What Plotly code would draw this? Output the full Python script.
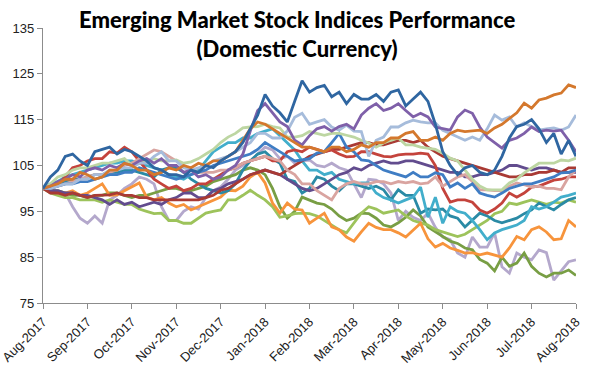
import plotly.graph_objects as go

month_labels = ["Aug-2017", "Sep-2017", "Oct-2017", "Nov-2017", "Dec-2017", "Jan-2018",
                "Feb-2018", "Mar-2018", "Apr-2018", "May-2018", "Jun-2018", "Jul-2018", "Aug-2018"]

# observation points: every sixth of a month from Aug-2017 (0) to Aug-2018 (12)
obs_months = [k / 6 for k in range(73)]

lavender = [100, 99.5, 99, 99, 96, 93.5, 92.4, 94, 92.4, 97.5, 98.5, 100, 101, 102.5, 102, 101,
            96, 93, 93, 95, 96, 95.5, 98, 99.5, 100.3, 102, 104, 105, 106, 107.5, 109, 108.4,
            106.5, 107, 105.5, 106, 106.2, 105, 104.7, 105.5, 104.5, 104, 101, 98, 102, 101.8,
            101, 99, 93, 95, 93.7, 93, 94.6, 91.5, 89.4, 88.8, 85.9, 85, 89.4, 87.2, 87.2, 90.3,
            82.9, 81.5, 85.9, 85, 84.4, 86.6, 86, 80, 82, 84, 84.4]
olive = [100, 99.5, 99.5, 99, 98.5, 98.5, 98, 98.5, 98.5, 99, 99, 98.5, 98, 98.5, 98.5, 99,
         99.5, 100, 100, 99.5, 99.5, 100, 100.5, 101.5, 102, 102.5, 103, 104, 104.5, 104, 103, 100,
         96, 93.5, 95, 98.1, 97.5, 96.8, 96.5, 95.5, 94, 93, 93.5, 94.6, 94.5, 93.5, 92, 91.6,
         92.5, 93.7, 95.3, 94, 91.6, 90.5, 89.4, 88.5, 88, 87, 86.6, 84.5, 83.7, 82, 85, 83,
         83.7, 85.9, 83, 81.5, 80.7, 81.5, 81.5, 82.2, 81]
lime = [100, 99, 98.5, 98, 98, 97.5, 97.5, 97.5, 97, 97.5, 97, 96.5, 96.5, 95.5, 95, 94.5,
        94.6, 93, 93, 92.4, 92.4, 93.5, 94.6, 95, 95.3, 97.5, 97.5, 98.5, 99.6, 98.5, 97.5, 96,
        93.7, 94, 94.5, 94.6, 94.5, 94, 93, 92, 91, 90.3, 92.4, 94.6, 96, 95.5, 94.6, 95,
        95.3, 94, 93, 92.5, 92, 91, 90.5, 90, 89.5, 90, 91, 92, 93, 94.5, 95, 96.8,
        96.5, 97, 97.5, 97, 96.5, 97, 96.8, 97.5, 97]
bright_orange = [100, 99.5, 99, 99, 99.5, 98.5, 99, 100, 101, 98.5, 98.6, 99.5, 100.3, 101.2, 98.1, 97.5,
                 98, 96.8, 96, 96.5, 95.3, 96, 96.8, 97.5, 98.1, 99.6, 99.5, 100.5, 102.5, 103.5, 101.2, 96.8,
                 94.6, 96.8, 95.5, 95.3, 92.4, 93.5, 94.6, 91.6, 91, 89.4, 88.5, 90.5, 92.4, 91.5, 91, 91,
                 90.3, 89.4, 91, 92.4, 89, 87.2, 88, 87, 86.5, 85.9, 86, 85.5, 85.9, 85.5, 85, 87,
                 89.5, 88.8, 91, 91.6, 90.5, 88.8, 89, 93, 91.6]
teal = [100, 100.5, 101, 101.5, 102, 102, 102.5, 103, 103, 103.5, 103.5, 104, 104, 103.5, 103, 102.5,
        104, 104.5, 104.5, 103.5, 102, 101, 100, 99.5, 99, 99.5, 101, 104, 106, 107.5, 108, 106.5,
        105.5, 102, 101.5, 99, 100, 102.5, 102, 100.5, 99.5, 101, 101, 100.5, 100, 100.5, 99.7, 97.5,
        99.7, 98.5, 98.5, 94.6, 95.5, 95.3, 95.5, 94, 93.5, 91.6, 93, 94.6, 94, 93, 92.5, 93,
        93.5, 94.5, 95.3, 96.8, 96, 95.3, 96.5, 97.5, 98]
cyan = [100, 101, 101.5, 102.5, 103, 103.5, 104, 104.5, 105, 105.5, 105.5, 106, 106, 105.5, 105, 104.5,
        104, 103, 102.5, 102, 103, 104, 106, 108, 109, 110, 110, 111, 111, 112, 112.5, 113,
        111.5, 110, 108.4, 106, 104, 104, 103, 103.5, 102, 101.5, 101, 101.2, 101.2, 99, 98, 97.5,
        96.8, 97.5, 98.1, 100.3, 93.7, 98.1, 92.4, 96, 95, 94.6, 93, 91, 88.8, 90.3, 91, 91.5,
        92, 93, 96, 95.5, 96, 97, 98.1, 98.5, 99]
dark_purple = [100, 99.5, 99.5, 99, 99, 98.5, 98.5, 98, 97.5, 96.5, 97.5, 96.5, 97, 96, 96.5, 97,
               96.5, 97.5, 98, 99, 99, 98, 98, 99.5, 100, 101, 101.5, 102, 103, 103.5, 104, 103.5,
               103, 102, 101, 100, 99.5, 100, 101, 102, 103, 103.5, 104.5, 104, 105, 105.5, 106, 105.5,
               105.5, 106, 106, 105.5, 105, 104.5, 104, 103.5, 103.5, 102.5, 102.5, 103, 103, 103.5, 104, 105,
               105, 104.5, 104, 104.5, 104.5, 104, 103.5, 103.5, 103.5]
dark_red = [100, 99, 99, 98.5, 99, 98.5, 98, 98.5, 98.5, 98.6, 99, 98.5, 98.5, 98, 98, 97.5,
            97.5, 97.5, 97.5, 97.5, 97.5, 97.5, 98, 98.5, 99.6, 100, 101, 102, 103, 103.5, 104, 103.5,
            103, 104, 105, 106, 107, 107.5, 108, 108.5, 108.5, 109, 109.5, 110, 110, 109.5, 109.5, 110,
            110.5, 110.5, 110, 110.5, 109, 108, 107, 106.5, 106, 105.5, 105, 104.5, 104, 103.5, 103, 102.5,
            102.5, 103, 103, 103.5, 103.5, 104, 103.5, 104.5, 104.5]
red = [100, 100.5, 101, 102.5, 104.5, 105, 106, 106.5, 106.5, 108, 107.7, 109, 108, 106, 104, 102,
       101, 100, 100.5, 99.5, 100, 101, 101, 102, 103, 104, 104.5, 105.5, 106, 106.5, 107, 106,
       106, 108, 108.4, 108, 109, 108.5, 108, 108.4, 107.5, 106.9, 107, 108, 108, 107.5, 107, 106.9,
       107.3, 107.5, 107.5, 107.7, 107.5, 105, 100, 97, 97.5, 97.5, 97, 95.3, 94.6, 95.5, 96.8, 99,
       98.1, 99, 100.3, 100.5, 101.2, 101.8, 102, 102.5, 102.5]
pink = [100, 100, 100.5, 101, 101.5, 102, 102.5, 103, 103, 103.5, 104, 105, 105.5, 106.5, 107.5, 108.4,
        108, 107, 106, 105, 104, 103.5, 103.5, 103.5, 104, 104, 104.5, 105.5, 106, 106.5, 107, 106.5,
        106, 104, 103, 101, 101, 99.5, 98.5, 97.5, 100, 101, 101.5, 101, 101, 101.5, 101.5, 101,
        101.5, 101.2, 101.5, 101, 101.2, 102.5, 100.5, 101.5, 102.5, 103, 101.5, 99.7, 99.7, 99.5, 99.5, 100.5,
        101.2, 100.8, 100.3, 100.5, 100, 100, 99.7, 102.5, 104]
med_blue = [100, 100, 100.5, 101, 101, 101.5, 101.5, 102, 102.5, 103, 103, 103.5, 103.5, 104.5, 104, 103.5,
            103, 102.5, 102, 102.5, 103, 103.5, 104, 105, 105.5, 106, 106.5, 107, 107.5, 108.5, 110, 109,
            108, 107, 106, 106.2, 106.5, 107.7, 108, 110, 112, 109, 108, 106.2, 106, 105, 104, 103.5,
            103, 102.5, 103.5, 102.5, 102.5, 103.4, 103, 100.3, 101.2, 100, 101, 99, 98.5, 98.1, 99, 100,
            100.5, 101, 101, 101.5, 102, 102.5, 103.4, 103.5, 104]
light_green = [100, 101, 102.5, 103, 104, 104.5, 104.5, 105, 105.5, 105.5, 106, 106.5, 105, 105.5, 106, 106.5,
               106, 106, 106.2, 105.5, 105.8, 106.5, 107.5, 108.5, 110, 111.2, 112, 113.2, 113.4, 113.5, 114, 113.5,
               113.2, 111.2, 111.2, 111.5, 112.4, 112, 111.6, 112, 112, 111.6, 111.2, 110.5, 109.9, 109, 109.9, 110.5,
               111, 109.5, 109.5, 109, 108.8, 108.5, 107.7, 106.6, 106, 104, 102, 100.5, 99.7, 99.7, 99.7, 101.2,
               102, 103.4, 104.5, 105.5, 105.5, 105.5, 106.2, 106, 106.6]
light_blue = [100, 100, 100.5, 101, 101, 102, 102, 103, 103, 104, 104, 104.5, 104.5, 105.5, 105.5, 107,
              108, 106, 106, 104.5, 104, 104.5, 105, 106, 106.5, 107, 108, 109, 110, 112, 112, 111,
              111, 112.5, 115.5, 116.4, 114, 114.5, 115, 113.4, 112.7, 113.8, 112.5, 112.4, 107, 110.5, 111.2, 113.4,
              113.4, 114.3, 114.9, 114.5, 114.3, 114.3, 112.7, 112, 111.2, 110.5, 111.2, 110.5, 113, 116, 114.9, 115.6,
              113.4, 114.3, 113.5, 112.7, 113, 113.2, 112.7, 113.4, 116]
purple = [100, 100.5, 101.5, 102, 103, 102.5, 104, 104.5, 104, 105, 104.5, 105.5, 105, 106, 106.5, 105.5,
          106.5, 105, 105, 103.5, 104, 102.5, 103, 102, 102.5, 104, 105, 107.5, 112.5, 117, 118.5, 116.5,
          114.5, 113.5, 110.5, 109.5, 111.5, 113, 113.5, 112.5, 113.5, 114, 113, 116, 117.5, 118.5, 117, 117.5,
          118.5, 117, 115.6, 116.4, 115.6, 113.4, 113, 112.7, 115.6, 117.1, 116.4, 113.4, 111.2, 110, 108.8, 110.5,
          111, 112, 113.4, 112.4, 112.7, 112.5, 112.7, 110.5, 108]
dark_orange = [100, 100.5, 101, 102, 102, 103.5, 103, 102, 102.5, 104, 104, 105.5, 105, 104, 104, 103,
               103.5, 104.5, 104, 105, 104.5, 105.5, 105, 106, 106, 107, 108, 110.5, 113, 114.5, 114, 113,
               112, 111, 110, 109, 109, 108.5, 108, 109, 109, 108, 108.5, 109.5, 109, 110, 110, 111,
               111, 112, 112.4, 110.5, 110.5, 111.2, 110.5, 112, 112.7, 112.4, 112.5, 112.7, 112, 113.2, 114, 115.3,
               116.5, 118.6, 117.5, 119.3, 119.7, 120.4, 120.8, 122.6, 122]
dark_blue = [100, 102.5, 104, 107, 107.5, 106, 105, 108, 108.5, 109, 107.5, 108.5, 108, 107, 106, 104.5,
             104, 103, 103, 102.5, 104, 103.5, 105, 104.5, 106, 107, 108, 110, 113, 116, 120.5, 118,
             116.5, 114.5, 119, 123.5, 121, 122, 122.5, 120, 121, 118.5, 120.5, 119.5, 119.5, 120.5, 119, 121,
             121.5, 118, 119.5, 121, 119, 114, 108, 105, 103, 104.5, 105, 103.5, 103, 104, 107, 111,
             113.5, 114, 115, 113, 110, 112, 107.5, 110.5, 107]

series = [
    (lavender, "#b4a8cc"),
    (olive, "#789e44"),
    (lime, "#9dc35b"),
    (bright_orange, "#f7943c"),
    (teal, "#2a8aa5"),
    (cyan, "#42aecb"),
    (dark_purple, "#624c8e"),
    (dark_red, "#a93a34"),
    (red, "#c4433c"),
    (pink, "#d9a4a0"),
    (med_blue, "#3f7dc4"),
    (light_green, "#bdd6a2"),
    (light_blue, "#a6bcdb"),
    (purple, "#7f60a9"),
    (dark_orange, "#d4782d"),
    (dark_blue, "#2f66a1"),
]

for values, _ in series:
    assert len(values) == len(obs_months), len(values)

fig = go.Figure()
for values, color in series:
    fig.add_trace(go.Scatter(x=obs_months, y=values, mode="lines",
                             line=dict(color=color, width=2.8), showlegend=False,
                             hoverinfo="skip"))

fig.add_annotation(
    text="Emerging Market Stock Indices Performance<br>(Domestic Currency)",
    xref="paper", yref="paper", x=(297 - 43.5) / 532.5, y=1 + 24 / 275,
    xanchor="center", yanchor="top", showarrow=False, align="center",
    font=dict(family="Lato", size=22, color="black", weight=900),
)

fig.update_layout(
    width=590, height=376,
    margin=dict(l=43, r=14, t=28, b=73, autoexpand=False),
    paper_bgcolor="white", plot_bgcolor="white",
    xaxis=dict(range=[0, 12], tickmode="array", tickvals=list(range(13)),
               ticktext=month_labels, tickangle=-45, showgrid=False, zeroline=False,
               showline=True, linecolor="#8c8c8c", linewidth=1.2, automargin=False,
               ticks="outside", ticklen=5, tickcolor="#8c8c8c", ticklabeloverflow="allow",
               tickfont=dict(family="Liberation Sans", size=13, color="#222")),
    yaxis=dict(range=[75, 135], tickmode="array", tickvals=[75, 85, 95, 105, 115, 125, 135],
               showgrid=False, zeroline=False, showline=True, linecolor="#8c8c8c", linewidth=1.2,
               ticks="outside", ticklen=5, tickcolor="#8c8c8c", automargin=False,
               tickfont=dict(family="Liberation Sans", size=13, color="#222")),
)

fig.write_html("out.html", config={"displayModeBar": False},
               post_script="document.body.style.margin='0';")
